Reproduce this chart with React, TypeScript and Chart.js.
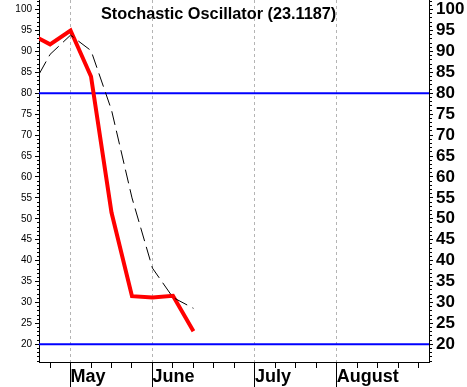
import React, { useEffect, useRef } from 'react';
import { Chart, registerables } from 'chart.js';

Chart.register(...registerables);

// ---- data ----
const weekIndex = [-1, 0, 1, 2, 3, 4, 5, 6, 7];
const percentK = [94.3, 91.7, 95.0, 84.0, 51.5, 31.5, 31.2, 31.6, 23.1187];
const percentD = [80.5, 89.3, 93.9, 90.2, 76.0, 55.0, 38.2, 31.2, 28.6];
const overboughtLevel = 80;
const oversoldLevel = 20;
const weekTicks = [0, 1, 2, 3, 4, 5, 6, 7, 8, 9, 10, 11, 12, 13, 14, 15, 16, 17, 18];
const monthNames = ['May', 'June', 'July', 'August'];
const monthTickIndex = [1, 5, 10, 14];
const yTickValues = [20, 25, 30, 35, 40, 45, 50, 55, 60, 65, 70, 75, 80, 85, 90, 95, 100];
const titleText = 'Stochastic Oscillator (23.1187)';

const X_MIN = -0.54;
const X_MAX = 18.5;
const Y_MIN = 15.77;
const Y_MAX = 102.3;

const FONT = '"Liberation Sans", Arial, sans-serif';

const align = (v: number) => Math.round(v - 0.5) + 0.5;

const decorations = {
  id: 'decorations',
  afterDraw(chart: any) {
    const { ctx, scales, chartArea } = chart;
    ctx.save();
    ctx.strokeStyle = '#000';
    ctx.lineWidth = 1;
    // minor ticks on both y axes
    const yl = scales.y;
    for (let v = Math.ceil(Y_MIN); v <= Math.floor(Y_MAX); v++) {
      if (v % 5 === 0) continue;
      const py = align(yl.getPixelForValue(v));
      ctx.beginPath();
      ctx.moveTo(Math.round(chartArea.left) - 2, py);
      ctx.lineTo(Math.round(chartArea.left), py);
      ctx.moveTo(Math.round(chartArea.right), py);
      ctx.lineTo(Math.round(chartArea.right) + 3, py);
      ctx.stroke();
    }
    // long month ticks below the axis
    const xs = scales.x;
    monthTickIndex.forEach((m) => {
      const px = align(xs.getPixelForValue(m));
      ctx.beginPath();
      ctx.moveTo(px, chartArea.bottom);
      ctx.lineTo(px, chart.height);
      ctx.stroke();
    });
    // title
    ctx.fillStyle = '#000';
    ctx.font = `bold 16.3px ${FONT}`;
    ctx.textAlign = 'left';
    ctx.textBaseline = 'alphabetic';
    ctx.fillText(titleText, 101, 19);
    ctx.restore();
  },
};

export default function App() {
  const ref = useRef<HTMLCanvasElement | null>(null);

  useEffect(() => {
    const canvas = ref.current;
    if (!canvas) return;
    const kData = weekIndex.map((x, i) => ({ x, y: percentK[i] }));
    const dData = weekIndex.map((x, i) => ({ x, y: percentD[i] }));
    const ob = [{ x: X_MIN - 2, y: overboughtLevel }, { x: X_MAX + 2, y: overboughtLevel }];
    const os = [{ x: X_MIN - 2, y: oversoldLevel }, { x: X_MAX + 2, y: oversoldLevel }];

    const chart = new Chart(canvas, {
      type: 'line',
      data: {
        datasets: [
          {
            label: '%D',
            data: dData,
            borderColor: '#000000',
            borderWidth: 1,
            borderDash: [14, 6],
            pointRadius: 0,
            tension: 0,
            clip: 0,
          },
          {
            label: '%K',
            data: kData,
            borderColor: '#ff0000',
            borderWidth: 4,
            pointRadius: 0,
            tension: 0,
            clip: 0,
            borderJoinStyle: 'miter',
          },
          {
            label: 'Overbought',
            data: ob,
            borderColor: '#0000ff',
            borderWidth: 2,
            pointRadius: 0,
            clip: 0,
          },
          {
            label: 'Oversold',
            data: os,
            borderColor: '#0000ff',
            borderWidth: 2,
            pointRadius: 0,
            clip: 0,
          },
        ],
      },
      options: {
        responsive: false,
        animation: false,
        events: [],
        layout: { padding: 0 },
        plugins: {
          legend: { display: false },
          title: { display: false },
          tooltip: { enabled: false },
        },
        scales: {
          x: {
            type: 'linear',
            position: 'bottom',
            min: X_MIN,
            max: X_MAX,
            afterBuildTicks: (s: any) => {
              s.ticks = weekTicks.map((v) => ({ value: v }));
            },
            afterFit: (s: any) => {
              s.height = 25;
              s.paddingLeft = 0;
              s.paddingRight = 0;
            },
            grid: {
              drawOnChartArea: true,
              drawTicks: true,
              tickLength: 6,
              tickColor: '#000',
              color: (c: any) =>
                c.tick && monthTickIndex.includes(c.tick.value) ? '#b4b4b4' : 'rgba(0,0,0,0)',
            },
            border: { display: true, color: '#000', width: 1, dash: [3, 3] },
            ticks: {
              autoSkip: false,
              maxRotation: 0,
              align: 'start',
              padding: 0,
              color: '#000',
              font: { family: FONT, size: 18, weight: 'bold', lineHeight: 1 },
              callback: (v: any) => {
                const i = monthTickIndex.indexOf(Number(v));
                return i >= 0 ? monthNames[i] : '';
              },
            },
          },
          y: {
            type: 'linear',
            position: 'left',
            min: Y_MIN,
            max: Y_MAX,
            afterBuildTicks: (s: any) => {
              s.ticks = yTickValues.map((v) => ({ value: v }));
            },
            afterFit: (s: any) => {
              s.width = 39;
              s.paddingTop = 0;
              s.paddingBottom = 0;
            },
            grid: { drawOnChartArea: false, drawTicks: true, tickLength: 4, tickColor: '#000' },
            border: { display: true, color: '#000', width: 1 },
            ticks: {
              autoSkip: false,
              padding: 3,
              color: '#000',
              font: { family: FONT, size: 10 },
              callback: (v: any) => String(v),
            },
          },
          y2: {
            type: 'linear',
            position: 'right',
            min: Y_MIN,
            max: Y_MAX,
            afterBuildTicks: (s: any) => {
              s.ticks = yTickValues.map((v) => ({ value: v }));
            },
            afterFit: (s: any) => {
              s.width = 38;
              s.paddingTop = 0;
              s.paddingBottom = 0;
            },
            grid: { drawOnChartArea: false, drawTicks: true, tickLength: 4, tickColor: '#000' },
            border: { display: true, color: '#000', width: 1 },
            ticks: {
              autoSkip: false,
              padding: 3,
              color: '#000',
              font: { family: FONT, size: 17, weight: 'bold', lineHeight: 1 },
              callback: (v: any) => String(v),
            },
          },
        },
      },
      plugins: [decorations],
    } as any);

    return () => chart.destroy();
  }, []);

  return (
    <div style={{ position: 'fixed', left: 0, top: 0, width: 467, height: 387, background: '#fff' }}>
      <canvas ref={ref} width={467} height={387} style={{ display: 'block' }} />
    </div>
  );
}
